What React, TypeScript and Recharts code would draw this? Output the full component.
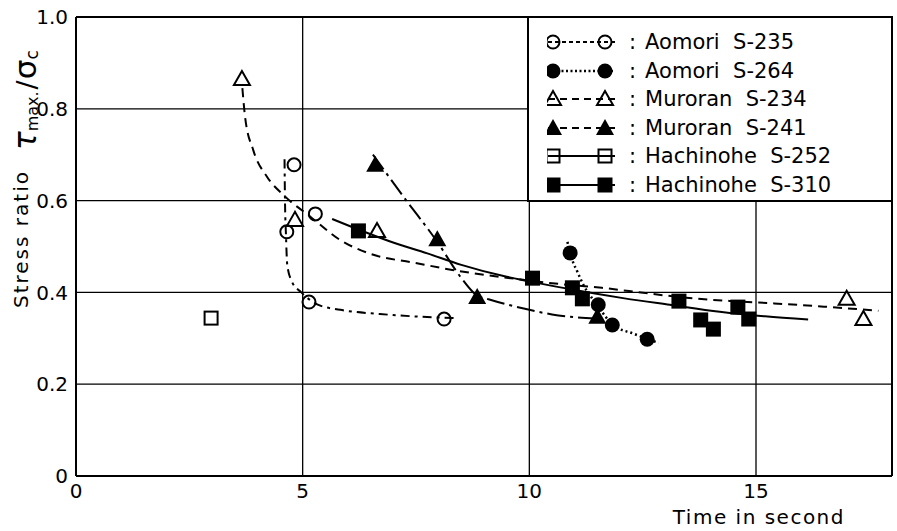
import React from 'react';
import { ComposedChart, Line, Scatter, XAxis, YAxis, CartesianGrid, ReferenceLine, Legend } from 'recharts';

const FONT = "'DejaVu Sans', 'Liberation Sans', sans-serif";

// x = time in second, y = stress ratio
const aomori235Pts = [[4.81, 0.678], [4.65, 0.532], [5.28, 0.571], [5.14, 0.379], [8.12, 0.342]];
const aomori235Fit = [[4.6, 0.69], [4.61, 0.6], [4.63, 0.53], [4.66, 0.46], [4.76, 0.424], [4.97, 0.4], [5.32, 0.374], [5.83, 0.362], [6.7, 0.353], [7.6, 0.347], [8.4, 0.344]];

const aomori264Pts = [[10.9, 0.486], [11.52, 0.373], [11.83, 0.329], [12.6, 0.298]];
const aomori264Fit = [[10.84, 0.51], [10.95, 0.47], [11.06, 0.445], [11.2, 0.415], [11.4, 0.385], [11.6, 0.358], [11.83, 0.33], [12.3, 0.31], [12.85, 0.29]];

const muroran234Pts = [[3.66, 0.865], [4.83, 0.558], [6.64, 0.534], [17.0, 0.386], [17.37, 0.342]];
const muroran234Fit = [[3.67, 0.845], [3.73, 0.782], [3.91, 0.71], [4.22, 0.651], [4.6, 0.61], [5.17, 0.565], [5.83, 0.514], [6.56, 0.482], [7.44, 0.465], [8.3, 0.449], [9.5, 0.432], [10.5, 0.42], [11.6, 0.41], [12.2, 0.403], [13.6, 0.387], [14.5, 0.381], [15.4, 0.376], [16.5, 0.369], [17.7, 0.36]];

const muroran241Pts = [[6.6, 0.678], [7.97, 0.516], [8.85, 0.39], [11.5, 0.347]];
const muroran241Fit = [[6.55, 0.7], [7.25, 0.605], [7.97, 0.51], [8.48, 0.434], [8.85, 0.393], [9.1, 0.385], [10.0, 0.362], [10.5, 0.352], [11.5, 0.343]];

const hachinohe252Pts = [[2.98, 0.344]];

const hachinohe310Pts = [[6.23, 0.534], [10.07, 0.431], [10.95, 0.41], [11.17, 0.386], [13.3, 0.381], [13.78, 0.34], [14.06, 0.32], [14.6, 0.368], [14.84, 0.342]];
const hachinohe310Fit = [[5.65, 0.56], [6.23, 0.537], [6.9, 0.512], [7.75, 0.485], [8.5, 0.46], [9.5, 0.434], [10.0, 0.424], [11.0, 0.405], [12.1, 0.387], [13.1, 0.373], [14.2, 0.358], [15.2, 0.348], [16.15, 0.341]];

const xTicks = [0, 5, 10, 15];
const yTicks = [0, 0.2, 0.4, 0.6, 0.8, 1.0];

const toXY = (pairs: number[][]) => pairs.map(([x, y]) => ({ x, y }));

type Kind = 'circleOpen' | 'circleFilled' | 'triOpen' | 'triFilled' | 'sqOpen' | 'sqFilled';

const SERIES: { name: string; code: string; kind: Kind; pts: number[][]; fit: number[][] | null; dash: string; legendDash: string; width: number }[] = [
  { name: 'Aomori', code: 'S-235', kind: 'circleOpen', pts: aomori235Pts, fit: aomori235Fit, dash: '9 5 3 5', legendDash: '4 3', width: 2 },
  { name: 'Aomori', code: 'S-264', kind: 'circleFilled', pts: aomori264Pts, fit: aomori264Fit, dash: '2 3', legendDash: '2 2.5', width: 2.5 },
  { name: 'Muroran', code: 'S-234', kind: 'triOpen', pts: muroran234Pts, fit: muroran234Fit, dash: '9 6', legendDash: '7 5', width: 2 },
  { name: 'Muroran', code: 'S-241', kind: 'triFilled', pts: muroran241Pts, fit: muroran241Fit, dash: '18 5 3 5', legendDash: '7 5', width: 2 },
  { name: 'Hachinohe', code: 'S-252', kind: 'sqOpen', pts: hachinohe252Pts, fit: null, dash: '', legendDash: '', width: 2 },
  { name: 'Hachinohe', code: 'S-310', kind: 'sqFilled', pts: hachinohe310Pts, fit: hachinohe310Fit, dash: '', legendDash: '', width: 2 },
];

const Marker = ({ kind, cx, cy }: { kind: Kind; cx: number; cy: number }) => {
  if (cx == null || cy == null) return null;
  switch (kind) {
    case 'circleOpen':
      return <circle cx={cx} cy={cy} r={6.5} fill='none' stroke='#000' strokeWidth={2} />;
    case 'circleFilled':
      return <circle cx={cx} cy={cy} r={7.5} fill='#000' />;
    case 'triOpen':
      return <polygon points={`${cx},${cy - 8} ${cx - 8},${cy + 6} ${cx + 8},${cy + 6}`} fill='none' stroke='#000' strokeWidth={2} />;
    case 'triFilled':
      return <polygon points={`${cx},${cy - 9} ${cx - 9},${cy + 7} ${cx + 9},${cy + 7}`} fill='#000' />;
    case 'sqOpen':
      return <rect x={cx - 6.5} y={cy - 6.5} width={13} height={13} fill='none' stroke='#000' strokeWidth={2} />;
    default:
      return <rect x={cx - 7.5} y={cy - 7.5} width={15} height={15} fill='#000' />;
  }
};

const LegendBox = () => (
  <div
    style={{
      width: 366,
      height: 186,
      boxSizing: 'border-box',
      border: '2px solid #000',
      background: '#fff',
      paddingTop: 9.7,
      paddingLeft: 18,
      fontFamily: FONT,
      fontSize: 21,
      color: '#000',
    }}
  >
    {SERIES.map((s) => (
      <div key={s.code} style={{ display: 'flex', alignItems: 'center', height: 28.6 }}>
        <svg width={70} height={24} style={{ display: 'block' }}>
          <line x1={1} y1={12} x2={68} y2={12} stroke='#000' strokeWidth={s.width} strokeDasharray={s.legendDash || undefined} />
          <Marker kind={s.kind} cx={6} cy={12} />
          <Marker kind={s.kind} cx={58} cy={12} />
        </svg>
        <span style={{ marginLeft: 12 }}>:</span>
        <span style={{ marginLeft: 9, whiteSpace: 'pre' }}>{`${s.name}  ${s.code}`}</span>
      </div>
    ))}
  </div>
);

const YLabel = () => (
  <g fontFamily={FONT} fill='#000'>
    <text transform='rotate(-90)' x={-308} y={28} fontSize={20} letterSpacing={2}>
      Stress ratio
    </text>
    <text transform='rotate(-90)' x={-150} y={36}>
      <tspan fontSize={31} fontStyle='italic'>τ</tspan>
      <tspan fontSize={16} dy={2}>max.</tspan>
      <tspan fontSize={27} dy={-2} dx={2}>/</tspan>
      <tspan fontSize={31} dx={1}>σ</tspan>
      <tspan fontSize={17} dy={2}>c</tspan>
    </text>
  </g>
);

const XLabel = () => (
  <text x={845} y={524} textAnchor='end' fontFamily={FONT} fontSize={20} letterSpacing={1.5} fill='#000'>
    Time in second
  </text>
);

export default function App() {
  return (
    <div style={{ position: 'absolute', left: 0, top: 0, width: 897, height: 531, background: '#fff' }}>
      <ComposedChart width={897} height={531} margin={{ top: 17, right: 5, bottom: 25, left: 16 }}>
        <CartesianGrid stroke='#000' strokeWidth={1.3} />
        <XAxis
          type='number'
          dataKey='x'
          domain={[0, 18]}
          ticks={xTicks}
          allowDataOverflow
          tickLine={false}
          axisLine={{ stroke: '#000', strokeWidth: 2 }}
          tick={{ fill: '#000', fontSize: 20, fontFamily: FONT }}
          height={30}
          label={{ content: () => <XLabel /> }}
        />
        <YAxis
          type='number'
          dataKey='y'
          domain={[0, 1]}
          ticks={yTicks}
          allowDataOverflow
          tickLine={false}
          axisLine={{ stroke: '#000', strokeWidth: 2 }}
          tick={{ fill: '#000', fontSize: 20, fontFamily: FONT }}
          tickFormatter={(v: number) => (v === 0 ? '0' : v.toFixed(1))}
          width={60}
          label={{ content: () => <YLabel /> }}
        />
        <ReferenceLine y={1} stroke='#000' strokeWidth={2} />
        <ReferenceLine x={18} stroke='#000' strokeWidth={2} />
        {SERIES.filter((s) => s.fit).map((s) => (
          <Line
            key={'fit' + s.code}
            data={toXY(s.fit as number[][])}
            dataKey='y'
            type='monotone'
            stroke='#000'
            strokeWidth={s.width}
            strokeDasharray={s.dash || undefined}
            dot={false}
            activeDot={false}
            legendType='none'
            isAnimationActive={false}
          />
        ))}
        {SERIES.map((s) => (
          <Scatter
            key={'pts' + s.code}
            name={`${s.name} ${s.code}`}
            data={toXY(s.pts)}
            shape={(p: any) => <Marker kind={s.kind} cx={p.cx} cy={p.cy} />}
            isAnimationActive={false}
          />
        ))}
        <Legend
          layout='horizontal'
          verticalAlign='middle'
          align='center'
          content={() => <LegendBox />}
          wrapperStyle={{ position: 'absolute', left: 527, top: 16, width: 366, height: 186 }}
        />
      </ComposedChart>
    </div>
  );
}
